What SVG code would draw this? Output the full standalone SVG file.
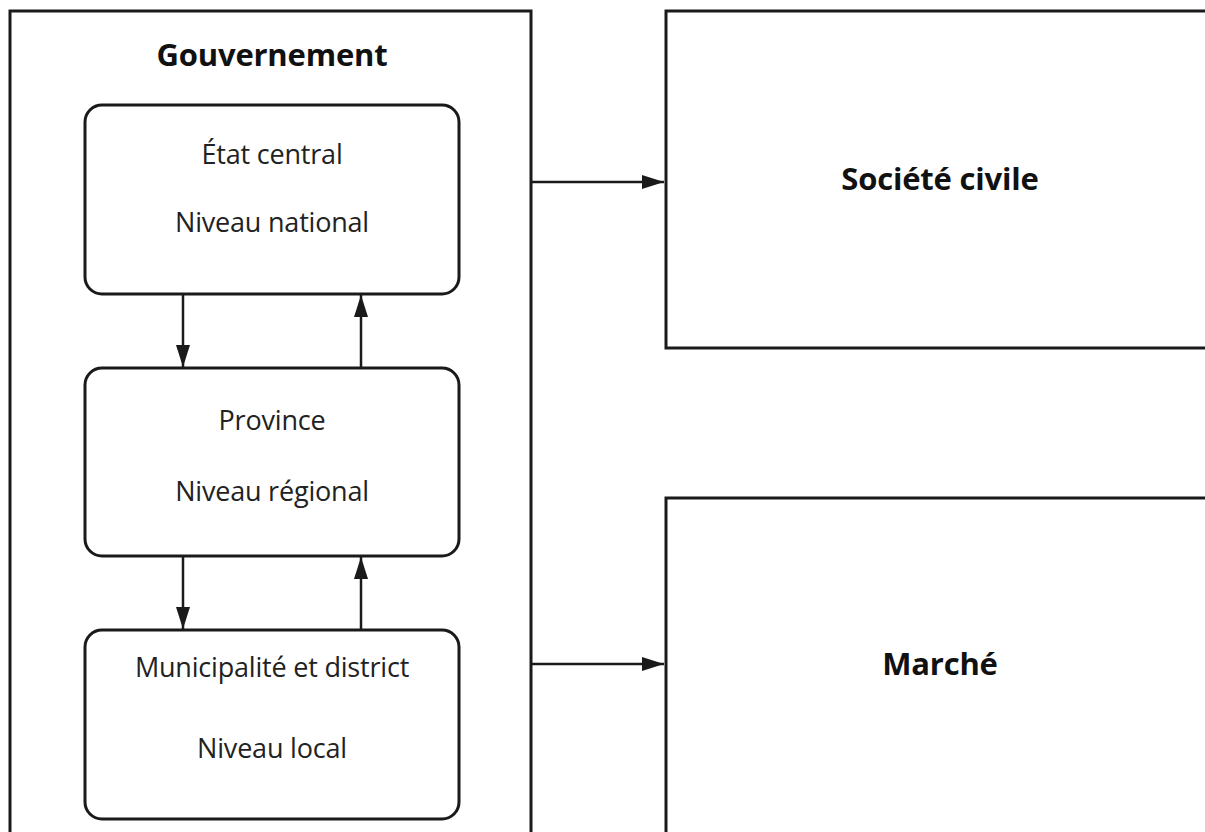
<svg xmlns="http://www.w3.org/2000/svg" width="1205" height="832" viewBox="0 0 1205 832">
<defs>
<style>
.frame{fill:#fff;stroke:#1a1a1a;stroke-width:3}
.lvl{fill:#fff;stroke:#1a1a1a;stroke-width:3}
.t{font-family:"Open Sans","Liberation Sans",sans-serif;font-size:27px;fill:#222;text-anchor:middle;letter-spacing:-0.2px}
.b{font-family:"Open Sans","Liberation Sans",sans-serif;font-size:31px;font-weight:bold;fill:#111;text-anchor:middle;letter-spacing:-0.2px}
.c{stroke:#1a1a1a;stroke-width:2.5;fill:none}
</style>
<marker id="ah" viewBox="0 0 22 14" refX="22" refY="7" markerWidth="22" markerHeight="14" markerUnits="userSpaceOnUse" orient="auto">
<path d="M0,0 L22,7 L0,14 Z" fill="#1a1a1a"/>
</marker>
</defs>
<rect width="1205" height="832" fill="#fff"/>
<g id="gouvernement">
<rect class="frame" x="10" y="11" width="521" height="840"/>
<text class="b" x="272" y="66">Gouvernement</text>
</g>
<g id="societe-civile">
<rect class="frame" x="666" y="11" width="560" height="337"/>
<text class="b" x="940" y="190">Société civile</text>
</g>
<g id="marche">
<rect class="frame" x="666" y="498" width="560" height="360"/>
<text class="b" x="940" y="675">Marché</text>
</g>
<g id="etat-central">
<rect class="lvl" x="85" y="105" width="374" height="189" rx="17"/>
<text class="t" x="272" y="164">État central</text>
<text class="t" x="272" y="232">Niveau national</text>
</g>
<g id="province">
<rect class="lvl" x="85" y="368" width="374" height="188" rx="17"/>
<text class="t" x="272" y="430">Province</text>
<text class="t" x="272" y="501">Niveau régional</text>
</g>
<g id="municipalite">
<rect class="lvl" x="85" y="630" width="374" height="189" rx="17"/>
<text class="t" x="272" y="677">Municipalité et district</text>
<text class="t" x="272" y="758">Niveau local</text>
</g>
<g id="connectors">
<line class="c" x1="183" y1="295" x2="183" y2="367" marker-end="url(#ah)"/>
<line class="c" x1="361" y1="367" x2="361" y2="295" marker-end="url(#ah)"/>
<line class="c" x1="183" y1="557" x2="183" y2="629" marker-end="url(#ah)"/>
<line class="c" x1="361" y1="629" x2="361" y2="557" marker-end="url(#ah)"/>
<line class="c" x1="532" y1="182" x2="664" y2="182" marker-end="url(#ah)"/>
<line class="c" x1="532" y1="664" x2="664" y2="664" marker-end="url(#ah)"/>
</g>
</svg>
